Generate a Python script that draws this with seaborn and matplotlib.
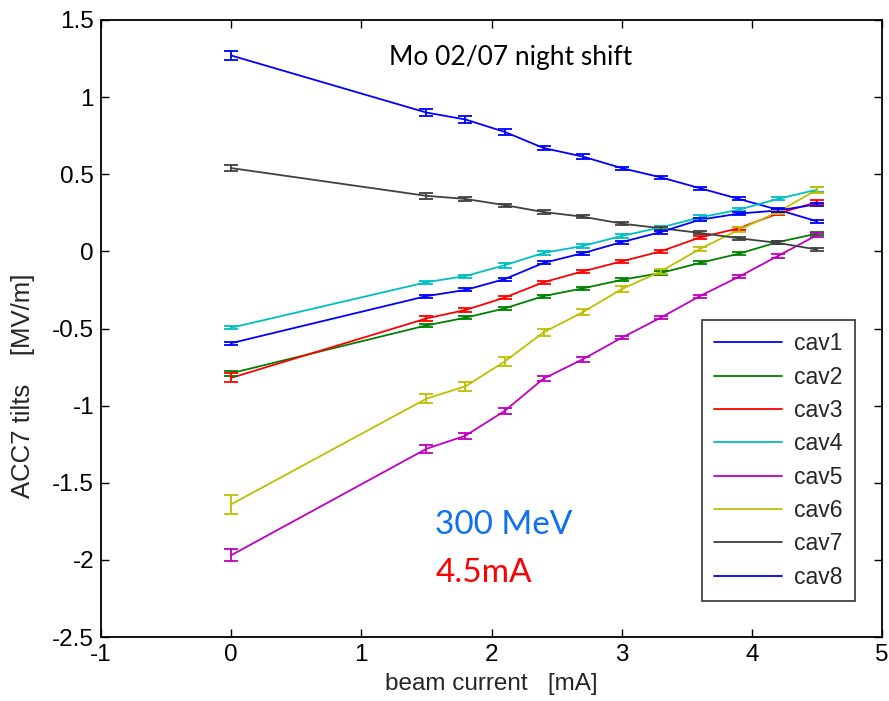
import numpy as np
import pandas as pd
import matplotlib
matplotlib.use("Agg")
import matplotlib.pyplot as plt
import seaborn as sns

# ---- data ----
current = [0.0, 1.5, 1.8, 2.1, 2.4, 2.7, 3.0, 3.3, 3.6, 3.9, 4.2, 4.5]
cavities = ["cav1", "cav2", "cav3", "cav4", "cav5", "cav6", "cav7", "cav8"]

cav1 = [1.27, 0.90, 0.855, 0.775, 0.67, 0.615, 0.54, 0.48, 0.41, 0.34, 0.27, 0.195]
cav2 = [-0.79, -0.48, -0.43, -0.37, -0.29, -0.24, -0.185, -0.14, -0.075, -0.015, 0.06, 0.115]
cav3 = [-0.82, -0.435, -0.38, -0.30, -0.20, -0.13, -0.065, 0.0, 0.09, 0.15, 0.245, 0.32]
cav4 = [-0.495, -0.20, -0.16, -0.09, -0.01, 0.035, 0.10, 0.155, 0.22, 0.27, 0.34, 0.40]
cav5 = [-1.97, -1.28, -1.195, -1.035, -0.825, -0.70, -0.56, -0.43, -0.29, -0.165, -0.03, 0.105]
cav6 = [-1.64, -0.955, -0.875, -0.715, -0.525, -0.395, -0.245, -0.13, 0.015, 0.14, 0.255, 0.40]
cav7 = [0.54, 0.36, 0.34, 0.30, 0.255, 0.225, 0.18, 0.15, 0.12, 0.085, 0.055, 0.012]
cav8 = [-0.595, -0.29, -0.25, -0.18, -0.075, -0.012, 0.06, 0.125, 0.205, 0.245, 0.265, 0.305]

err1 = [0.03, 0.02, 0.02, 0.02, 0.015, 0.015, 0.01, 0.01, 0.01, 0.01, 0.01, 0.01]
err2 = [0.015, 0.01, 0.01, 0.01, 0.01, 0.01, 0.01, 0.01, 0.01, 0.01, 0.01, 0.01]
err3 = [0.03, 0.015, 0.01, 0.01, 0.01, 0.01, 0.01, 0.01, 0.01, 0.01, 0.01, 0.015]
err4 = [0.01, 0.01, 0.01, 0.015, 0.015, 0.015, 0.015, 0.01, 0.015, 0.01, 0.01, 0.015]
err5 = [0.04, 0.025, 0.02, 0.02, 0.015, 0.015, 0.01, 0.01, 0.01, 0.01, 0.015, 0.015]
err6 = [0.06, 0.03, 0.03, 0.03, 0.025, 0.02, 0.02, 0.015, 0.015, 0.015, 0.015, 0.02]
err7 = [0.02, 0.02, 0.015, 0.01, 0.01, 0.01, 0.01, 0.01, 0.01, 0.01, 0.01, 0.01]
err8 = [0.01, 0.01, 0.01, 0.01, 0.01, 0.01, 0.01, 0.01, 0.01, 0.01, 0.01, 0.01]

values = [cav1, cav2, cav3, cav4, cav5, cav6, cav7, cav8]
errors = [err1, err2, err3, err4, err5, err6, err7, err8]
colors = ["#0000FF", "#008000", "#FF0000", "#00BFBF", "#BF00BF", "#BFBF00", "#404040", "#0000FF"]

xticks = [-1, 0, 1, 2, 3, 4, 5]
yticks = [-2.5, -2, -1.5, -1, -0.5, 0, 0.5, 1, 1.5]

rows = []
for name, vals in zip(cavities, values):
    for x, v in zip(current, vals):
        rows.append({"current": x, "tilt": v, "cavity": name})
df = pd.DataFrame(rows)

sns.set_style("ticks")
plt.rcParams["font.family"] = ["Liberation Sans Narrow", "Liberation Sans", "DejaVu Sans"]
plt.rcParams["axes.unicode_minus"] = False

fig = plt.figure(figsize=(8.89, 7.01), dpi=100)
ax = fig.add_axes([101 / 889, 1 - 637 / 701, 781 / 889, 617 / 701])

sns.lineplot(data=df, x="current", y="tilt", hue="cavity", hue_order=cavities,
             palette=colors, linewidth=1.3, ax=ax, legend=True, sort=False,
             errorbar=None)

for vals, errs, col in zip(values, errors, colors):
    ax.errorbar(current, vals, yerr=errs, fmt="none", ecolor=col,
                elinewidth=1.3, capsize=5, capthick=1.3)

ax.set_xlim(-1, 5)
ax.set_ylim(-2.5, 1.5)
ax.set_xticks(xticks)
ax.set_xticklabels([f"{t:g}" for t in xticks])
ax.set_yticks(yticks)
ax.set_yticklabels([f"{t:g}" for t in yticks])
ax.tick_params(direction="in", top=True, right=True, length=6, width=1,
               labelsize=17.5, colors="black", pad=5)
for s in ax.spines.values():
    s.set_visible(True)
    s.set_color("black")
    s.set_linewidth(1.3)

ax.set_xlabel("beam current   [mA]", fontsize=17.5, labelpad=5)
ax.set_ylabel("ACC7 tilts    [MV/m]", fontsize=18.5)
ax.yaxis.set_label_coords(-0.085, 0.408)

leg = ax.legend(loc="lower right", bbox_to_anchor=(0.965, 0.058), borderaxespad=0,
                fontsize=16.5, frameon=True, fancybox=False, handlelength=2.95,
                handletextpad=0.5, labelspacing=0.45, borderpad=0.55)
leg.get_frame().set_edgecolor("black")
leg.get_frame().set_linewidth(1.2)
for line in leg.get_lines():
    line.set_linewidth(1.3)

ax.text(0.524, 0.940, "Mo 02/07 night shift", transform=ax.transAxes,
        ha="center", va="center", fontsize=19, family=["Lato", "DejaVu Sans"], color="black")
ax.text(0.428, 0.1815, "300 MeV", transform=ax.transAxes, ha="left", va="center",
        fontsize=24, family=["Lato", "DejaVu Sans"], color="#1070F0")
ax.text(0.428, 0.104, "4.5mA", transform=ax.transAxes, ha="left", va="center",
        fontsize=24, family=["Lato", "DejaVu Sans"], color="#FF0000")

fig.savefig("out.png", dpi=100, facecolor="white")
